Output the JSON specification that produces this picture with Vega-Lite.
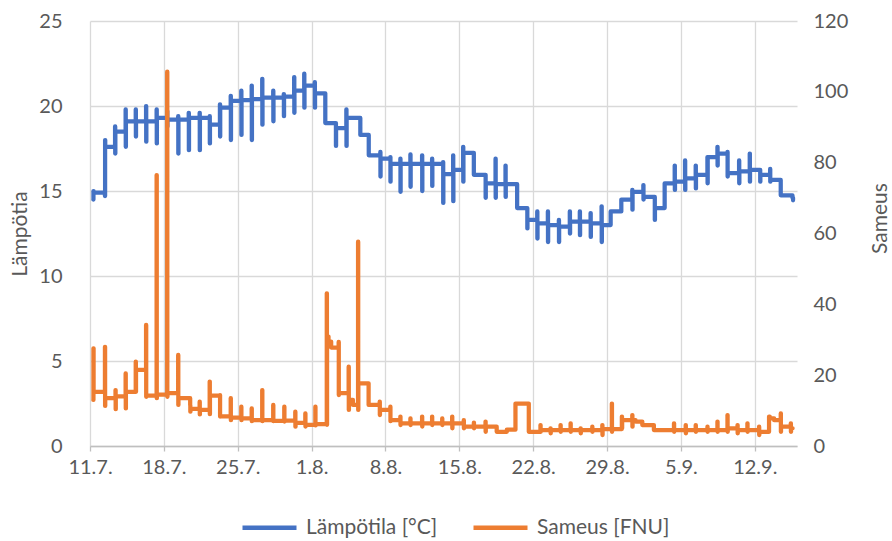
{
  "$schema": "https://vega.github.io/schema/vega-lite/v6.json",
  "width": 707,
  "height": 425,
  "autosize": {"type": "none"},
  "padding": {"left": 90, "top": 21, "right": 95, "bottom": 95},
  "background": "white",
  "config": {
    "font": "Lato",
    "view": {"stroke": null},
    "axis": {"labelColor": "#595959", "titleColor": "#595959", "labelFontSize": 20, "titleFontSize": 21, "titleFontWeight": "normal", "gridColor": "#d9d9d9", "gridWidth": 1.3}
  },
  "datasets": {
    "temp": [
      {"t": "2021-07-11T07:30", "v": 14.5}, {"t": "2021-07-11T07:50", "v": 15.0}, {"t": "2021-07-11T08:10", "v": 14.9},
      {"t": "2021-07-12T10:00", "v": 14.7}, {"t": "2021-07-12T10:20", "v": 18.0}, {"t": "2021-07-12T10:40", "v": 17.6},
      {"t": "2021-07-13T09:00", "v": 18.8}, {"t": "2021-07-13T09:20", "v": 17.2}, {"t": "2021-07-13T09:40", "v": 18.5},
      {"t": "2021-07-14T09:00", "v": 19.8}, {"t": "2021-07-14T09:20", "v": 17.6}, {"t": "2021-07-14T09:40", "v": 19.1},
      {"t": "2021-07-15T08:00", "v": 19.8}, {"t": "2021-07-15T08:20", "v": 18.2}, {"t": "2021-07-15T08:40", "v": 19.1},
      {"t": "2021-07-16T07:30", "v": 20.0}, {"t": "2021-07-16T07:50", "v": 17.9}, {"t": "2021-07-16T08:10", "v": 19.1},
      {"t": "2021-07-17T07:30", "v": 19.8}, {"t": "2021-07-17T07:50", "v": 17.8}, {"t": "2021-07-17T08:10", "v": 19.3},
      {"t": "2021-07-18T07:30", "v": 19.7}, {"t": "2021-07-18T07:50", "v": 18.8}, {"t": "2021-07-18T08:10", "v": 19.2},
      {"t": "2021-07-19T08:30", "v": 19.4}, {"t": "2021-07-19T08:50", "v": 17.2}, {"t": "2021-07-19T09:10", "v": 19.2},
      {"t": "2021-07-20T08:30", "v": 19.6}, {"t": "2021-07-20T08:50", "v": 17.4}, {"t": "2021-07-20T09:10", "v": 19.3},
      {"t": "2021-07-21T09:20", "v": 19.6}, {"t": "2021-07-21T09:40", "v": 17.4}, {"t": "2021-07-21T10:00", "v": 19.3},
      {"t": "2021-07-22T08:10", "v": 19.4}, {"t": "2021-07-22T08:30", "v": 17.8}, {"t": "2021-07-22T08:50", "v": 18.9},
      {"t": "2021-07-23T07:30", "v": 20.1}, {"t": "2021-07-23T07:50", "v": 18.2}, {"t": "2021-07-23T08:10", "v": 19.9},
      {"t": "2021-07-24T08:00", "v": 20.6}, {"t": "2021-07-24T08:20", "v": 18.0}, {"t": "2021-07-24T08:40", "v": 20.3},
      {"t": "2021-07-25T08:00", "v": 20.9}, {"t": "2021-07-25T08:20", "v": 18.3}, {"t": "2021-07-25T08:40", "v": 20.35},
      {"t": "2021-07-26T07:40", "v": 21.2}, {"t": "2021-07-26T08:00", "v": 18.0}, {"t": "2021-07-26T08:20", "v": 20.4},
      {"t": "2021-07-27T07:40", "v": 21.6}, {"t": "2021-07-27T08:00", "v": 18.9}, {"t": "2021-07-27T08:20", "v": 20.5},
      {"t": "2021-07-28T08:40", "v": 20.9}, {"t": "2021-07-28T09:00", "v": 19.1}, {"t": "2021-07-28T09:20", "v": 20.5},
      {"t": "2021-07-29T08:40", "v": 20.7}, {"t": "2021-07-29T09:00", "v": 19.4}, {"t": "2021-07-29T09:20", "v": 20.55},
      {"t": "2021-07-30T08:20", "v": 21.7}, {"t": "2021-07-30T08:40", "v": 19.6}, {"t": "2021-07-30T09:00", "v": 20.9},
      {"t": "2021-07-31T07:10", "v": 21.9}, {"t": "2021-07-31T07:30", "v": 19.9}, {"t": "2021-07-31T07:50", "v": 21.2},
      {"t": "2021-08-01T07:10", "v": 21.4}, {"t": "2021-08-01T07:30", "v": 19.9}, {"t": "2021-08-01T07:50", "v": 20.75},
      {"t": "2021-08-02T07:10", "v": 19.0},
      {"t": "2021-08-03T07:00", "v": 19.0}, {"t": "2021-08-03T07:20", "v": 17.65}, {"t": "2021-08-03T07:40", "v": 18.7},
      {"t": "2021-08-04T07:00", "v": 19.8}, {"t": "2021-08-04T07:20", "v": 17.65}, {"t": "2021-08-04T07:40", "v": 19.3},
      {"t": "2021-08-05T14:50", "v": 18.3},
      {"t": "2021-08-06T10:00", "v": 17.1},
      {"t": "2021-08-07T12:15", "v": 17.3}, {"t": "2021-08-07T12:35", "v": 15.85}, {"t": "2021-08-07T12:55", "v": 16.9},
      {"t": "2021-08-08T11:00", "v": 17.0}, {"t": "2021-08-08T11:20", "v": 15.55}, {"t": "2021-08-08T11:40", "v": 16.6},
      {"t": "2021-08-09T09:50", "v": 16.9}, {"t": "2021-08-09T10:10", "v": 14.95}, {"t": "2021-08-09T10:30", "v": 16.6},
      {"t": "2021-08-10T08:40", "v": 17.15}, {"t": "2021-08-10T09:00", "v": 15.25}, {"t": "2021-08-10T09:20", "v": 16.6},
      {"t": "2021-08-11T11:15", "v": 17.1}, {"t": "2021-08-11T11:35", "v": 15.0}, {"t": "2021-08-11T11:55", "v": 16.6},
      {"t": "2021-08-12T10:00", "v": 16.9}, {"t": "2021-08-12T10:20", "v": 15.3}, {"t": "2021-08-12T10:40", "v": 16.6},
      {"t": "2021-08-13T11:00", "v": 16.7}, {"t": "2021-08-13T11:20", "v": 14.3}, {"t": "2021-08-13T11:40", "v": 16.0},
      {"t": "2021-08-14T09:50", "v": 17.1}, {"t": "2021-08-14T10:10", "v": 14.4}, {"t": "2021-08-14T10:30", "v": 16.25},
      {"t": "2021-08-15T08:40", "v": 17.6}, {"t": "2021-08-15T09:00", "v": 15.55}, {"t": "2021-08-15T09:20", "v": 17.25},
      {"t": "2021-08-16T09:00", "v": 15.95},
      {"t": "2021-08-17T11:30", "v": 15.95}, {"t": "2021-08-17T11:50", "v": 14.6}, {"t": "2021-08-17T12:10", "v": 15.45},
      {"t": "2021-08-18T10:20", "v": 16.9}, {"t": "2021-08-18T10:40", "v": 14.6}, {"t": "2021-08-18T11:00", "v": 15.4},
      {"t": "2021-08-19T09:00", "v": 16.5}, {"t": "2021-08-19T09:20", "v": 14.65}, {"t": "2021-08-19T09:40", "v": 15.4},
      {"t": "2021-08-20T11:30", "v": 14.0},
      {"t": "2021-08-21T10:20", "v": 14.0}, {"t": "2021-08-21T10:40", "v": 12.8}, {"t": "2021-08-21T11:00", "v": 13.3},
      {"t": "2021-08-22T09:10", "v": 13.8}, {"t": "2021-08-22T09:30", "v": 12.2}, {"t": "2021-08-22T09:50", "v": 13.1},
      {"t": "2021-08-23T09:20", "v": 13.8}, {"t": "2021-08-23T09:40", "v": 12.0}, {"t": "2021-08-23T10:00", "v": 13.0},
      {"t": "2021-08-24T10:20", "v": 13.3}, {"t": "2021-08-24T10:40", "v": 12.0}, {"t": "2021-08-24T11:00", "v": 12.9},
      {"t": "2021-08-25T11:15", "v": 13.8}, {"t": "2021-08-25T11:35", "v": 12.5}, {"t": "2021-08-25T11:55", "v": 13.2},
      {"t": "2021-08-26T10:00", "v": 13.8}, {"t": "2021-08-26T10:20", "v": 12.4}, {"t": "2021-08-26T10:40", "v": 13.2},
      {"t": "2021-08-27T10:30", "v": 13.7}, {"t": "2021-08-27T10:50", "v": 12.3}, {"t": "2021-08-27T11:10", "v": 13.1},
      {"t": "2021-08-28T11:30", "v": 14.1}, {"t": "2021-08-28T11:50", "v": 12.0}, {"t": "2021-08-28T12:10", "v": 13.0},
      {"t": "2021-08-29T08:10", "v": 13.8},
      {"t": "2021-08-30T08:25", "v": 14.5},
      {"t": "2021-08-31T09:20", "v": 15.06}, {"t": "2021-08-31T09:40", "v": 13.9}, {"t": "2021-08-31T10:00", "v": 14.95},
      {"t": "2021-09-01T10:30", "v": 15.35}, {"t": "2021-09-01T10:50", "v": 14.5}, {"t": "2021-09-01T11:10", "v": 14.65},
      {"t": "2021-09-02T12:15", "v": 14.65}, {"t": "2021-09-02T12:35", "v": 13.3}, {"t": "2021-09-02T12:55", "v": 14.0},
      {"t": "2021-09-03T11:00", "v": 15.45},
      {"t": "2021-09-04T09:50", "v": 16.5}, {"t": "2021-09-04T10:10", "v": 15.06}, {"t": "2021-09-04T10:30", "v": 15.55},
      {"t": "2021-09-05T09:20", "v": 16.8}, {"t": "2021-09-05T09:40", "v": 15.06}, {"t": "2021-09-05T10:00", "v": 15.75},
      {"t": "2021-09-06T09:35", "v": 16.5}, {"t": "2021-09-06T09:55", "v": 15.15}, {"t": "2021-09-06T10:15", "v": 15.95},
      {"t": "2021-09-07T12:15", "v": 17.0}, {"t": "2021-09-07T12:35", "v": 15.45}, {"t": "2021-09-07T12:55", "v": 17.0},
      {"t": "2021-09-08T11:00", "v": 17.6}, {"t": "2021-09-08T11:20", "v": 16.5}, {"t": "2021-09-08T11:40", "v": 17.2},
      {"t": "2021-09-09T09:50", "v": 17.3}, {"t": "2021-09-09T10:10", "v": 15.85}, {"t": "2021-09-09T10:30", "v": 16.05},
      {"t": "2021-09-10T12:15", "v": 16.8}, {"t": "2021-09-10T12:35", "v": 15.45}, {"t": "2021-09-10T12:55", "v": 16.15},
      {"t": "2021-09-11T12:30", "v": 17.2}, {"t": "2021-09-11T12:50", "v": 15.55}, {"t": "2021-09-11T13:10", "v": 16.25},
      {"t": "2021-09-12T12:00", "v": 16.25}, {"t": "2021-09-12T12:20", "v": 15.55}, {"t": "2021-09-12T12:40", "v": 15.95},
      {"t": "2021-09-13T10:50", "v": 16.3}, {"t": "2021-09-13T11:10", "v": 15.55}, {"t": "2021-09-13T11:30", "v": 15.65},
      {"t": "2021-09-14T11:00", "v": 14.75},
      {"t": "2021-09-15T13:40", "v": 14.6}, {"t": "2021-09-15T15:00", "v": 14.45}
    ],
    "turb": [
      {"t": "2021-07-11T07:30", "v": 13.0}, {"t": "2021-07-11T07:50", "v": 27.6}, {"t": "2021-07-11T08:10", "v": 15.3},
      {"t": "2021-07-12T10:00", "v": 28.0}, {"t": "2021-07-12T10:20", "v": 11.3}, {"t": "2021-07-12T10:40", "v": 13.5},
      {"t": "2021-07-13T10:00", "v": 15.8}, {"t": "2021-07-13T10:20", "v": 10.4}, {"t": "2021-07-13T10:40", "v": 14.0},
      {"t": "2021-07-14T09:00", "v": 20.5}, {"t": "2021-07-14T09:20", "v": 10.6}, {"t": "2021-07-14T09:40", "v": 15.3},
      {"t": "2021-07-15T08:00", "v": 23.8}, {"t": "2021-07-15T08:20", "v": 15.3}, {"t": "2021-07-15T08:40", "v": 21.5},
      {"t": "2021-07-16T07:30", "v": 34.2}, {"t": "2021-07-16T07:50", "v": 13.9}, {"t": "2021-07-16T08:10", "v": 14.2},
      {"t": "2021-07-17T07:30", "v": 76.5}, {"t": "2021-07-17T07:50", "v": 13.5}, {"t": "2021-07-17T08:10", "v": 14.5},
      {"t": "2021-07-18T07:30", "v": 105.7}, {"t": "2021-07-18T07:50", "v": 13.9}, {"t": "2021-07-18T08:10", "v": 14.9},
      {"t": "2021-07-19T08:30", "v": 25.7}, {"t": "2021-07-19T08:50", "v": 11.6}, {"t": "2021-07-19T09:10", "v": 13.5},
      {"t": "2021-07-20T11:50", "v": 11.5}, {"t": "2021-07-20T12:10", "v": 9.7}, {"t": "2021-07-20T12:30", "v": 10.5},
      {"t": "2021-07-21T09:20", "v": 12.5}, {"t": "2021-07-21T09:40", "v": 8.9}, {"t": "2021-07-21T10:00", "v": 10.2},
      {"t": "2021-07-22T08:10", "v": 18.2}, {"t": "2021-07-22T08:30", "v": 9.0}, {"t": "2021-07-22T08:50", "v": 14.2},
      {"t": "2021-07-23T07:30", "v": 14.4}, {"t": "2021-07-23T07:50", "v": 8.3}, {"t": "2021-07-23T08:10", "v": 8.4},
      {"t": "2021-07-24T08:00", "v": 13.5}, {"t": "2021-07-24T08:20", "v": 7.3}, {"t": "2021-07-24T08:40", "v": 8.0},
      {"t": "2021-07-25T08:00", "v": 11.1}, {"t": "2021-07-25T08:20", "v": 7.3}, {"t": "2021-07-25T08:40", "v": 7.8},
      {"t": "2021-07-26T07:40", "v": 10.6}, {"t": "2021-07-26T08:00", "v": 7.0}, {"t": "2021-07-26T08:20", "v": 7.3},
      {"t": "2021-07-27T07:40", "v": 15.8}, {"t": "2021-07-27T08:00", "v": 7.0}, {"t": "2021-07-27T08:20", "v": 7.3},
      {"t": "2021-07-28T08:40", "v": 11.6}, {"t": "2021-07-28T09:00", "v": 7.0}, {"t": "2021-07-28T09:20", "v": 7.1},
      {"t": "2021-07-29T09:50", "v": 11.1}, {"t": "2021-07-29T10:10", "v": 6.9}, {"t": "2021-07-29T10:30", "v": 7.2},
      {"t": "2021-07-30T10:50", "v": 9.7}, {"t": "2021-07-30T11:10", "v": 5.45}, {"t": "2021-07-30T11:30", "v": 6.5},
      {"t": "2021-07-31T09:40", "v": 9.2}, {"t": "2021-07-31T10:00", "v": 5.5}, {"t": "2021-07-31T10:20", "v": 6.0},
      {"t": "2021-08-01T08:30", "v": 11.1}, {"t": "2021-08-01T08:50", "v": 5.8}, {"t": "2021-08-01T09:10", "v": 6.2},
      {"t": "2021-08-02T10:30", "v": 43.1}, {"t": "2021-08-02T10:50", "v": 6.0}, {"t": "2021-08-02T11:10", "v": 30.9}, {"t": "2021-08-02T14:30", "v": 29.5}, {"t": "2021-08-02T20:30", "v": 27.8},
      {"t": "2021-08-03T13:30", "v": 29.4}, {"t": "2021-08-03T13:50", "v": 14.4}, {"t": "2021-08-03T14:10", "v": 14.9},
      {"t": "2021-08-04T12:15", "v": 22.4}, {"t": "2021-08-04T12:35", "v": 10.2}, {"t": "2021-08-04T12:55", "v": 13.0}, {"t": "2021-08-04T22:00", "v": 11.6},
      {"t": "2021-08-05T09:40", "v": 57.7}, {"t": "2021-08-05T10:00", "v": 10.2}, {"t": "2021-08-05T10:20", "v": 17.7},
      {"t": "2021-08-06T09:40", "v": 11.6},
      {"t": "2021-08-07T10:50", "v": 12.5}, {"t": "2021-08-07T11:10", "v": 8.75}, {"t": "2021-08-07T11:30", "v": 10.2},
      {"t": "2021-08-08T11:00", "v": 11.1}, {"t": "2021-08-08T11:20", "v": 7.0}, {"t": "2021-08-08T11:40", "v": 7.3},
      {"t": "2021-08-09T09:50", "v": 8.3}, {"t": "2021-08-09T10:10", "v": 5.9}, {"t": "2021-08-09T10:30", "v": 6.4},
      {"t": "2021-08-10T08:40", "v": 7.8}, {"t": "2021-08-10T09:00", "v": 5.9}, {"t": "2021-08-10T09:20", "v": 6.4},
      {"t": "2021-08-11T11:15", "v": 8.3}, {"t": "2021-08-11T11:35", "v": 5.5}, {"t": "2021-08-11T11:55", "v": 6.4},
      {"t": "2021-08-12T10:00", "v": 8.3}, {"t": "2021-08-12T10:20", "v": 5.9}, {"t": "2021-08-12T10:40", "v": 6.4},
      {"t": "2021-08-13T09:00", "v": 7.8}, {"t": "2021-08-13T09:20", "v": 5.9}, {"t": "2021-08-13T09:40", "v": 6.4},
      {"t": "2021-08-14T07:40", "v": 8.3}, {"t": "2021-08-14T08:00", "v": 5.0}, {"t": "2021-08-14T08:20", "v": 6.4},
      {"t": "2021-08-15T10:00", "v": 7.3}, {"t": "2021-08-15T10:20", "v": 5.0}, {"t": "2021-08-15T10:40", "v": 5.45},
      {"t": "2021-08-16T09:00", "v": 6.6}, {"t": "2021-08-16T09:20", "v": 5.0}, {"t": "2021-08-16T09:40", "v": 5.45},
      {"t": "2021-08-17T11:30", "v": 6.9}, {"t": "2021-08-17T11:50", "v": 4.0}, {"t": "2021-08-17T12:10", "v": 5.45},
      {"t": "2021-08-18T13:00", "v": 4.0},
      {"t": "2021-08-19T12:00", "v": 4.6},
      {"t": "2021-08-20T07:40", "v": 12.0},
      {"t": "2021-08-21T14:00", "v": 4.0},
      {"t": "2021-08-22T16:30", "v": 5.9}, {"t": "2021-08-22T16:50", "v": 4.0}, {"t": "2021-08-22T17:10", "v": 4.5},
      {"t": "2021-08-23T15:20", "v": 5.0}, {"t": "2021-08-23T15:40", "v": 3.6}, {"t": "2021-08-23T16:00", "v": 4.5},
      {"t": "2021-08-24T14:10", "v": 5.9}, {"t": "2021-08-24T14:30", "v": 4.0}, {"t": "2021-08-24T14:50", "v": 4.5},
      {"t": "2021-08-25T13:00", "v": 6.4}, {"t": "2021-08-25T13:20", "v": 4.0}, {"t": "2021-08-25T13:40", "v": 4.5},
      {"t": "2021-08-26T11:45", "v": 5.0}, {"t": "2021-08-26T12:05", "v": 3.6}, {"t": "2021-08-26T12:25", "v": 4.5},
      {"t": "2021-08-27T14:20", "v": 5.45}, {"t": "2021-08-27T14:40", "v": 4.0}, {"t": "2021-08-27T15:00", "v": 4.5},
      {"t": "2021-08-28T13:10", "v": 5.9}, {"t": "2021-08-28T13:30", "v": 3.1}, {"t": "2021-08-28T13:50", "v": 4.8},
      {"t": "2021-08-29T10:50", "v": 12.0}, {"t": "2021-08-29T11:10", "v": 4.0}, {"t": "2021-08-29T11:30", "v": 4.8},
      {"t": "2021-08-30T09:40", "v": 8.3}, {"t": "2021-08-30T10:00", "v": 5.0}, {"t": "2021-08-30T10:20", "v": 7.3},
      {"t": "2021-08-31T09:20", "v": 8.75}, {"t": "2021-08-31T09:40", "v": 5.45}, {"t": "2021-08-31T10:00", "v": 7.3}, {"t": "2021-08-31T16:50", "v": 6.9},
      {"t": "2021-09-01T08:10", "v": 5.9},
      {"t": "2021-09-02T10:30", "v": 4.5},
      {"t": "2021-09-04T08:10", "v": 6.4}, {"t": "2021-09-04T08:30", "v": 4.0}, {"t": "2021-09-04T08:50", "v": 4.5},
      {"t": "2021-09-05T10:50", "v": 5.9}, {"t": "2021-09-05T11:10", "v": 3.6}, {"t": "2021-09-05T11:30", "v": 4.5},
      {"t": "2021-09-06T09:35", "v": 5.9}, {"t": "2021-09-06T09:55", "v": 4.0}, {"t": "2021-09-06T10:15", "v": 4.5},
      {"t": "2021-09-07T12:15", "v": 5.45}, {"t": "2021-09-07T12:35", "v": 4.0}, {"t": "2021-09-07T12:55", "v": 4.5},
      {"t": "2021-09-08T11:00", "v": 6.9}, {"t": "2021-09-08T11:20", "v": 4.0}, {"t": "2021-09-08T11:40", "v": 4.5},
      {"t": "2021-09-09T09:50", "v": 8.75}, {"t": "2021-09-09T10:10", "v": 4.0}, {"t": "2021-09-09T10:30", "v": 5.0},
      {"t": "2021-09-10T08:40", "v": 5.9}, {"t": "2021-09-10T09:00", "v": 3.6}, {"t": "2021-09-10T09:20", "v": 4.5},
      {"t": "2021-09-11T07:10", "v": 6.4}, {"t": "2021-09-11T07:30", "v": 4.0}, {"t": "2021-09-11T07:50", "v": 4.5},
      {"t": "2021-09-12T09:40", "v": 5.45}, {"t": "2021-09-12T10:00", "v": 3.1}, {"t": "2021-09-12T10:20", "v": 4.0},
      {"t": "2021-09-13T08:25", "v": 8.3}, {"t": "2021-09-13T10:00", "v": 7.8}, {"t": "2021-09-13T20:00", "v": 7.3},
      {"t": "2021-09-14T11:00", "v": 9.2}, {"t": "2021-09-14T11:20", "v": 4.0}, {"t": "2021-09-14T11:40", "v": 5.45},
      {"t": "2021-09-15T09:50", "v": 6.4}, {"t": "2021-09-15T10:10", "v": 4.0}, {"t": "2021-09-15T10:30", "v": 5.0}, {"t": "2021-09-15T14:00", "v": 5.0}
    ]
  },
  "layer": [
    {
      "data": {"name": "temp"},
      "mark": {"type": "line", "interpolate": "step-after", "strokeWidth": 4.25, "strokeJoin": "round", "strokeCap": "round"},
      "encoding": {
        "x": {
          "field": "t", "type": "temporal",
          "scale": {"domain": [{"year": 2021, "month": 7, "date": 11}, {"year": 2021, "month": 9, "date": 16}]},
          "axis": {
            "title": null, "format": "%-d.%-m.", "labelFlush": false, "labelOverlap": false,
            "values": [
              {"year": 2021, "month": 7, "date": 11}, {"year": 2021, "month": 7, "date": 18}, {"year": 2021, "month": 7, "date": 25},
              {"year": 2021, "month": 8, "date": 1}, {"year": 2021, "month": 8, "date": 8}, {"year": 2021, "month": 8, "date": 15},
              {"year": 2021, "month": 8, "date": 22}, {"year": 2021, "month": 8, "date": 29}, {"year": 2021, "month": 9, "date": 5},
              {"year": 2021, "month": 9, "date": 12}
            ],
            "grid": true, "domainColor": "#bfbfbf", "domainWidth": 1.3, "tickColor": "#bfbfbf", "tickWidth": 1.3, "tickSize": 5, "labelPadding": 6
          }
        },
        "y": {
          "field": "v", "type": "quantitative",
          "scale": {"domain": [0, 25]},
          "axis": {"orient": "left", "title": "Lämpötia", "values": [0, 5, 10, 15, 20, 25], "domain": false, "ticks": false, "labelPadding": 28, "titlePadding": 8, "grid": true}
        },
        "color": {
          "datum": "Lämpötila [°C]", "type": "nominal",
          "scale": {"domain": ["Lämpötila [°C]", "Sameus [FNU]"], "range": ["#4472C4", "#ED7D31"]},
          "legend": {"title": null, "orient": "none", "direction": "horizontal", "legendX": 150, "legendY": 477, "symbolType": "stroke", "symbolSize": 2916, "symbolStrokeWidth": 4.5, "labelFontSize": 21, "labelColor": "#595959", "labelOffset": 7, "columnPadding": 26}
        }
      }
    },
    {
      "data": {"name": "turb"},
      "mark": {"type": "line", "interpolate": "step-after", "strokeWidth": 4.25, "strokeJoin": "round", "strokeCap": "round"},
      "encoding": {
        "x": {"field": "t", "type": "temporal"},
        "y": {
          "field": "v", "type": "quantitative",
          "scale": {"domain": [0, 120]},
          "axis": {"orient": "right", "title": "Sameus", "titleAngle": 270, "titleX": 83, "titleY": 197, "titleAlign": "center", "titleBaseline": "middle", "values": [0, 20, 40, 60, 80, 100, 120], "domain": false, "ticks": false, "grid": false, "labelPadding": 16}
        },
        "color": {"datum": "Sameus [FNU]", "type": "nominal"}
      }
    }
  ],
  "resolve": {"scale": {"y": "independent"}}
}
